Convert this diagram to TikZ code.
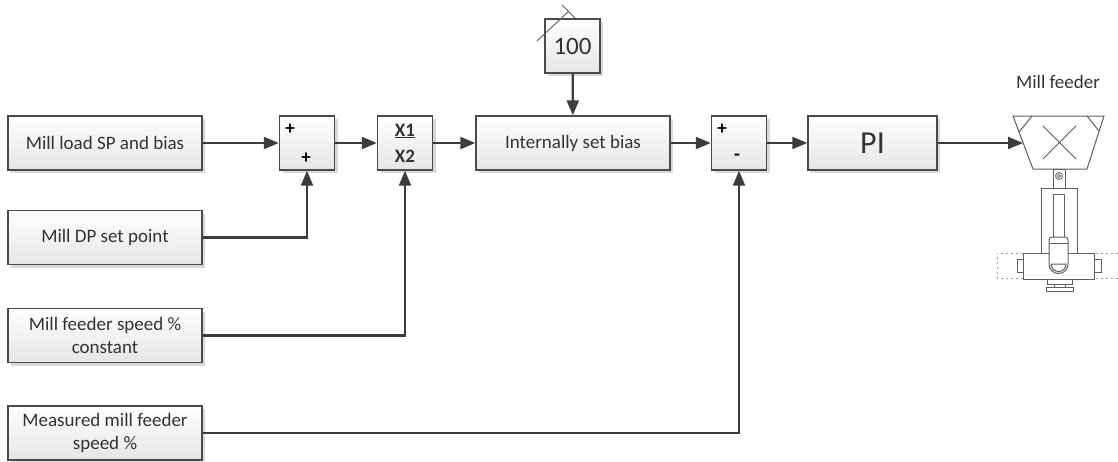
\documentclass[tikz,border=0pt]{standalone}
\usepackage{fontspec}
\setmainfont{Carlito}
\usepackage{tikz}
\usetikzlibrary{arrows.meta, shadows}
\definecolor{wire}{HTML}{3C3C3C}
\definecolor{edge}{HTML}{4A4A4A}
\definecolor{sketch}{HTML}{5E5E5E}
\newcommand\Txt{\fontsize{19}{23}\selectfont}

\tikzset{
  blk/.style = {draw=edge, line width=1.4pt, top color=white, bottom color=black!10,
                drop shadow={shadow xshift=3pt, shadow yshift=-3pt, fill=black!25, opacity=.6},
                align=center, inner sep=0pt, font=\Txt, text=black!80},
  wide/.style = {blk, minimum width=194pt, minimum height=54pt},
  small/.style = {blk, minimum width=55pt, minimum height=54pt},
  sgn/.style = {inner sep=0pt, font=\fontsize{19}{19}\selectfont\bfseries},
  sig/.style = {draw=wire, line width=2.2pt, -{Triangle[length=15pt, width=12pt]}},
  part/.style = {draw=sketch, line width=1pt, fill=white}
}

\begin{document}
\begin{tikzpicture}[x=1pt, y=-1pt]
  \useasboundingbox (0,0) rectangle (1118,461);

  % inputs on the left
  \foreach \n/\y/\t in {1/143/{Mill load SP and bias}, 2/237.5/{Mill DP set point},
                        3/335.5/{Mill feeder speed \%\\constant}, 4/433/{Measured mill feeder\\speed \%}}{
    \node [wide] (in\n) at (105,\y) {\t};
  }

  \node [small] (sum1) at (307,143) {};
  \node [sgn] (sum1a) at (290,129) {+};
  \node [sgn] (sum1b) at (306,158) {+};

  \node [small, font=\fontsize{19}{26}\selectfont\bfseries] (ratio) at (405,143) {\underline{X1}\\X2};

  \node [wide] (bias) at (573,143) {Internally set bias};
  \node [small, font=\fontsize{25}{25}\selectfont] (hundred) at (572.5,46) {100};
  \draw [sketch, line width=0.9pt] (537,41) -- (569,11);
  \draw [sketch, line width=0.9pt] (562,5) -- (575,18);

  \node [small] (sum2) at (739,143) {};
  \node [sgn] (sum2a) at (722,129) {+};
  \node [sgn] (sum2b) at (737,157) {-};

  \node [blk, minimum width=129pt, minimum height=54pt, font=\fontsize{32}{32}\selectfont] (pi) at (872.5,143) {PI};

  % mill feeder
  \node [font=\Txt, text=black!80, anchor=base] (feedlbl) at (1058,88) {Mill feeder};
  \draw [part] (1013,116) -- (1104,116) -- (1087,169) -- (1033,169) -- cycle;
  \draw [sketch, line width=1pt] (1032,116) -- (1019,132) (1087,116) -- (1099,131);
  \draw [sketch, line width=1pt] (1043,126) -- (1076,159) (1076,126) -- (1043,159);
  \coordinate (feedin) at (1023,143);
  \draw [part] (1053,169) rectangle (1065,188);
  \draw [sketch, line width=0.8pt] (1059,176) circle (3.5) (1059,176) circle (1.6);
  \draw [part] (1041,188) rectangle (1077,253);
  \draw [part] (1053,194) rectangle (1064,237);
  \draw [sketch!60, line width=1pt, dash pattern=on 2pt off 3pt] (1118,253) -- (997,253) -- (997,278) -- (1118,278);
  \draw [part] (1023,253) rectangle (1094,279);
  \draw [part] (1017,259) rectangle (1023,272);
  \draw [part] (1094,259) rectangle (1101,272);
  \draw [part] (1049,264) -- (1049,240) arc (180:270:3) -- (1065,237) arc (270:360:3) -- (1068,264) arc (0:180:9.5) -- cycle;
  \draw [sketch, line width=1pt] (1049,243) -- (1068,243);
  \draw [sketch, line width=1pt] (1051,264) -- (1066,264) arc (0:180:7.5);
  \draw [part] (1047,279) rectangle (1072,284);
  \draw [part] (1054,284) rectangle (1065,287);
  \draw [part] (1046,287) rectangle (1073,291);

  % signal lines
  \draw [sig] (in1) -- (sum1);
  \draw [sig] (in2.east) -| (sum1.south);
  \draw [sig] (sum1) -- (ratio);
  \draw [sig] (in3.east) -| (ratio.south);
  \draw [sig] (ratio) -- (bias);
  \draw [sig] (hundred) -- (bias);
  \draw [sig] (bias) -- (sum2);
  \draw [sig] (in4.east) -| (sum2.south);
  \draw [sig] (sum2) -- (pi);
  \draw [sig] (pi) -- (feedin);
\end{tikzpicture}
\end{document}
